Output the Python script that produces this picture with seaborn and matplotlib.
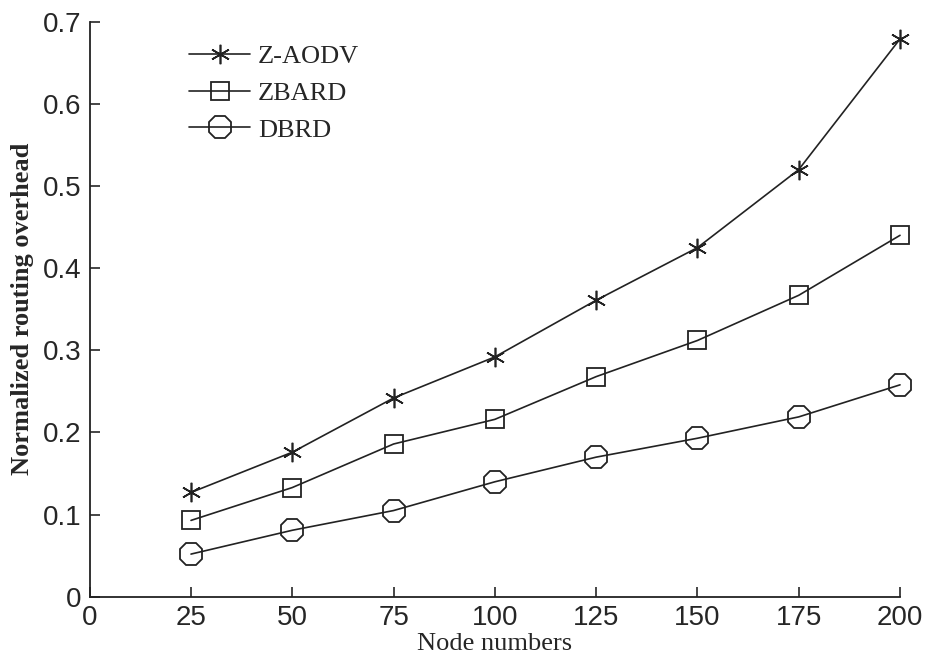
import pandas as pd
import matplotlib
matplotlib.use("Agg")
import matplotlib.pyplot as plt
import seaborn as sns

# values
node_numbers = [25, 50, 75, 100, 125, 150, 175, 200]
z_aodv = [0.127, 0.176, 0.242, 0.292, 0.361, 0.425, 0.520, 0.679]
zbard = [0.093, 0.133, 0.186, 0.216, 0.268, 0.312, 0.367, 0.440]
dbrd = [0.052, 0.081, 0.105, 0.140, 0.170, 0.193, 0.219, 0.258]

x_ticks = [0, 25, 50, 75, 100, 125, 150, 175, 200]
y_ticks = [0, 0.1, 0.2, 0.3, 0.4, 0.5, 0.6, 0.7]
y_tick_labels = ["0", "0.1", "0.2", "0.3", "0.4", "0.5", "0.6", "0.7"]

sns.set_style("ticks")
serif = ["Liberation Serif", "DejaVu Serif"]
sans = ["Liberation Sans Narrow", "Liberation Sans", "DejaVu Sans"]

fig = plt.figure(figsize=(9.25, 6.58), dpi=100)
ax = fig.add_axes([0.097, 0.093, 0.876, 0.874])

series = [
    ("Z-AODV", z_aodv, dict(marker=(6, 2, 0), markersize=14, markeredgewidth=1.2)),
    ("ZBARD", zbard, dict(marker="s", markersize=12.5, markerfacecolor="none", markeredgewidth=1.3)),
    ("DBRD", dbrd, dict(marker="8", markersize=17, markerfacecolor="none", markeredgewidth=1.3)),
]

for name, values, style in series:
    df = pd.DataFrame({"nodes": node_numbers, "overhead": values})
    sns.lineplot(data=df, x="nodes", y="overhead", ax=ax, color="#222222",
                 linewidth=1.2, markeredgecolor="#222222", label=name,
                 clip_on=False, zorder=3, **style)

ax.set_xlim(0, 200)
ax.set_ylim(0, 0.7)
ax.set_xticks(x_ticks)
ax.set_yticks(y_ticks)
ax.set_yticklabels(y_tick_labels)
ax.tick_params(direction="in", length=7, width=1.2, labelsize=20, pad=6)
for lab in ax.get_xticklabels() + ax.get_yticklabels():
    lab.set_family(sans)

sns.despine(ax=ax)
for side in ["left", "bottom"]:
    ax.spines[side].set_linewidth(1.3)
    ax.spines[side].set_color("#222222")

ax.set_xlabel("Node numbers", family=serif, fontsize=19, labelpad=1)
ax.set_ylabel("Normalized routing overhead", family=serif, fontsize=19,
              fontweight="bold", labelpad=6)

leg = ax.legend(loc="upper left", bbox_to_anchor=(0.123, 0.96), frameon=False,
                borderaxespad=0, borderpad=0,
                handlelength=2.3, handletextpad=0.3, labelspacing=0.5,
                prop={"family": serif, "size": 19})

fig.savefig("out.png", dpi=100)
